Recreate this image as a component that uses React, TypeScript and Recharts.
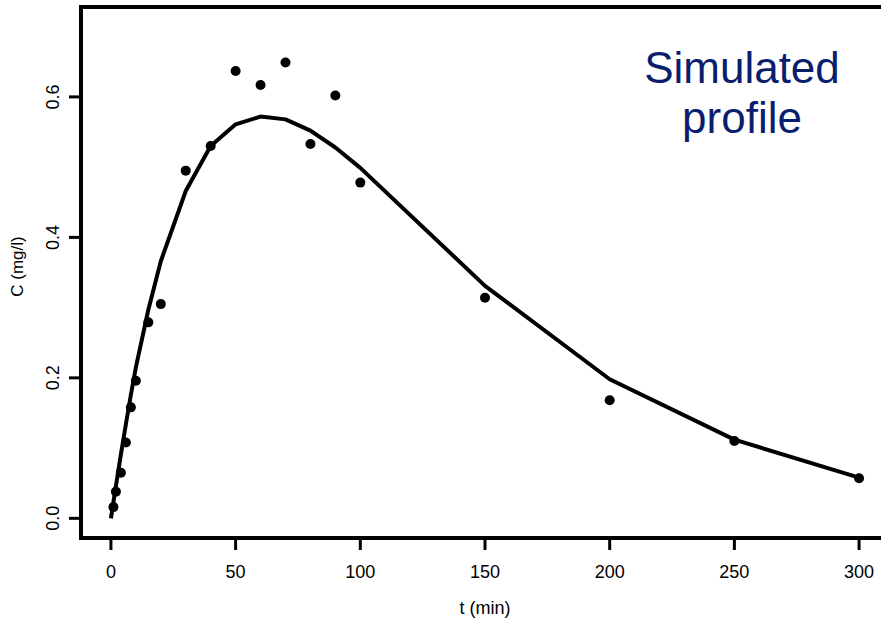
import React from "react";
import { ComposedChart, Line, ReferenceArea, Scatter, XAxis, YAxis } from "recharts";

// observed concentrations
const obsTimes = [1, 2, 4, 6, 8, 10, 15, 20, 30, 40, 50, 60, 70, 80, 90, 100, 150, 200, 250, 300];
const obsConc = [0.016, 0.038, 0.065, 0.108, 0.158, 0.196, 0.279, 0.305, 0.495, 0.53, 0.637, 0.617, 0.649, 0.533, 0.602, 0.478, 0.314, 0.168, 0.11, 0.057];

// simulated profile
const simTimes = [0, 1, 2, 4, 6, 8, 10, 15, 20, 30, 40, 50, 60, 70, 80, 90, 100, 150, 200, 250, 300];
const simConc = [0, 0.023, 0.046, 0.091, 0.134, 0.176, 0.215, 0.297, 0.366, 0.466, 0.53, 0.561, 0.572, 0.568, 0.552, 0.528, 0.499, 0.331, 0.198, 0.112, 0.058];

const xTicks = [0, 50, 100, 150, 200, 250, 300];
const yTicks = [0, 0.2, 0.4, 0.6];
const xDomain = [-12, 312];
const yDomain = [-0.028, 0.728];

const observed = obsTimes.map((t, i) => ({ t, c: obsConc[i] }));
const simulated = simTimes.map((t, i) => ({ t, c: simConc[i] }));

const FONT = '"Liberation Sans", Arial, sans-serif';
const tickStyle = { stroke: "#000", strokeWidth: 3 };

function XTick(props: any) {
  const { x, y, payload } = props;
  return (
    <text x={x} y={y + 26} textAnchor="middle" fontSize={18} fontFamily={FONT} fill="#000">
      {payload.value}
    </text>
  );
}

function YTick(props: any) {
  const { x, y, payload } = props;
  const bx = x - 7.5;
  return (
    <text x={bx} y={y} transform={`rotate(-90, ${bx}, ${y})`} textAnchor="middle" fontSize={18} fontFamily={FONT} fill="#000">
      {Number(payload.value).toFixed(1)}
    </text>
  );
}

function YTitle(props: any) {
  const { x, y, height } = props.viewBox;
  const cx = x + 23;
  const cy = y + height / 2 - 6;
  return (
    <text x={cx} y={cy} transform={`rotate(-90, ${cx}, ${cy})`} textAnchor="middle" fontSize={17} fontFamily={FONT} fill="#000">
      C (mg/l)
    </text>
  );
}

function XTitle(props: any) {
  const { x, y, width } = props.viewBox;
  return (
    <text x={x + width / 2} y={y + 76} textAnchor="middle" fontSize={18} fontFamily={FONT} fill="#000">
      t (min)
    </text>
  );
}

function Dot(props: any) {
  return <circle cx={props.cx} cy={props.cy} r={5} fill="#000" />;
}

export default function App() {
  return (
    <div style={{ position: "fixed", left: 0, top: 0, width: 881, height: 620, overflow: "hidden", background: "#fff" }}>
      <ComposedChart width={900} height={620} margin={{ top: 7, right: 11, bottom: 0, left: 0 }}>
        <XAxis
          dataKey="t"
          type="number"
          domain={xDomain}
          ticks={xTicks}
          allowDataOverflow
          height={82}
          axisLine={false}
          tickLine={tickStyle}
          tickSize={12}
          tick={<XTick />}
          label={{ content: <XTitle /> }}
        />
        <YAxis
          type="number"
          domain={yDomain}
          ticks={yTicks}
          allowDataOverflow
          width={81}
          axisLine={false}
          tickLine={tickStyle}
          tickSize={12}
          tick={<YTick />}
          label={{ content: <YTitle /> }}
        />
        {/* plot frame (box) */}
        <ReferenceArea
          x1={xDomain[0]}
          x2={xDomain[1]}
          y1={yDomain[0]}
          y2={yDomain[1]}
          fill="none"
          fillOpacity={0}
          stroke="#000"
          strokeWidth={4}
          strokeOpacity={1}
          ifOverflow="visible"
        />
        <Line data={simulated} dataKey="c" type="linear" stroke="#000" strokeWidth={4} strokeLinejoin="round" dot={false} isAnimationActive={false} />
        <Scatter data={observed} dataKey="c" shape={<Dot />} isAnimationActive={false} />
      </ComposedChart>
      <div
        style={{
          position: "absolute",
          left: 642,
          top: 42.5,
          width: 200,
          textAlign: "center",
          fontFamily: FONT,
          fontSize: 44,
          lineHeight: "50px",
          color: "#0a1e6e",
        }}
      >
        Simulated
        <br />
        profile
      </div>
    </div>
  );
}
